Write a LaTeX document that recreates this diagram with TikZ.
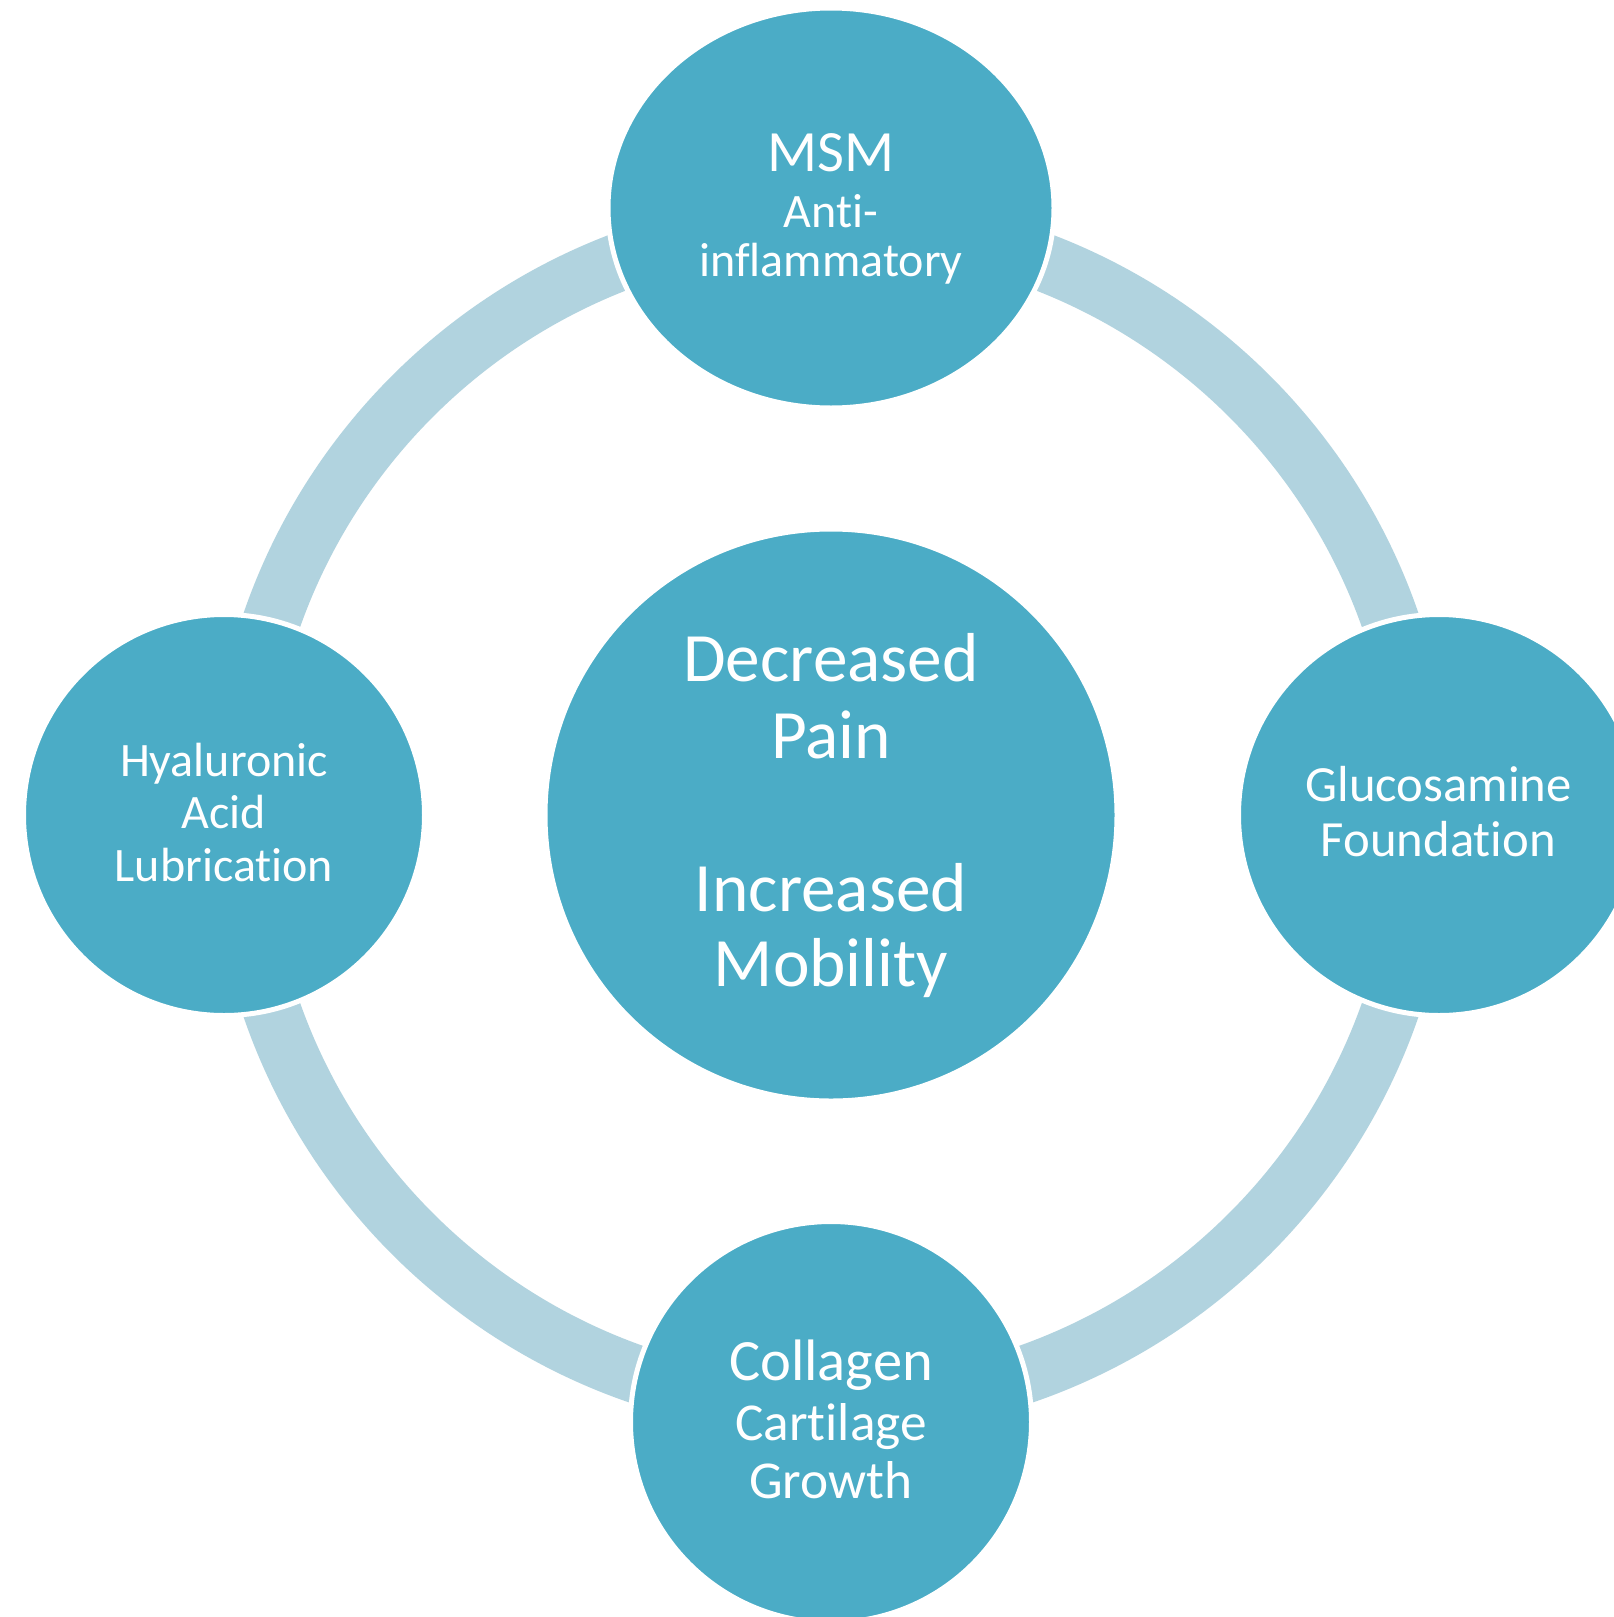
\documentclass[tikz,border=0pt]{standalone}
\usepackage{fontspec}
\setmainfont[Ligatures=NoCommon]{Carlito}
\usetikzlibrary{shapes.geometric}
\definecolor{bubble}{HTML}{4BACC6}
\definecolor{ringc}{HTML}{B1D3DF}
\newcommand\fsz[1]{\fontsize{#1}{#1}\selectfont}
\begin{document}
\begin{tikzpicture}[x=1pt,y=-1pt,
  bub/.style={circle, fill=bubble, draw=white, line width=5pt, inner sep=0pt, minimum size=#1},
  txt/.style={text=white, anchor=base, inner sep=0pt, font=\fsz{#1}}]
\clip (0,0) rectangle (1614,1617);
\fill[white] (0,0) rectangle (1614,1617);
% ring
\node[circle, draw=ringc, line width=58pt, inner sep=0pt, minimum size=1184pt] (ring) at (831,815) {};
% bubbles
\node[bub=572pt] (center) at (831,815) {};
\node[ellipse, fill=bubble, draw=white, line width=5pt, inner sep=0pt, minimum width=446pt, minimum height=400pt] (msm) at (831,208) {};
\node[bub=401pt] (hya) at (224,815) {};
\node[bub=401pt] (glu) at (1439,815) {};
\node[bub=401pt] (col) at (831,1422) {};
% texts
\node[txt=58.5] (t1) at (831,171.7) {MSM};
\node[txt=48] (t2) at (831,227.3) {Anti-};
\node[txt=48] (t3) at (831,276.7) {inflammatory};
\node[txt=69.3] (c1) at (831,681.7) {Decreased};
\node[txt=69.3] (c2) at (831,758.3) {Pain};
\node[txt=69.3] (c3) at (831,911.7) {Increased};
\node[txt=69.3] (c4) at (831,986.7) {Mobility};
\node[txt=50.7] (g1) at (1438.5,801.7) {Glucosamine};
\node[txt=50.7] (g2) at (1438.5,856.7) {Foundation};
\node[txt=48] (h1) at (224,776) {Hyaluronic};
\node[txt=48] (h2) at (224,828.3) {Acid};
\node[txt=48] (h3) at (224,881) {Lubrication};
\node[txt=58.5] (k1) at (831,1380) {Collagen};
\node[txt=53.3] (k2) at (831,1440) {Cartilage};
\node[txt=53.3] (k3) at (831,1498.3) {Growth};
\end{tikzpicture}
\end{document}
